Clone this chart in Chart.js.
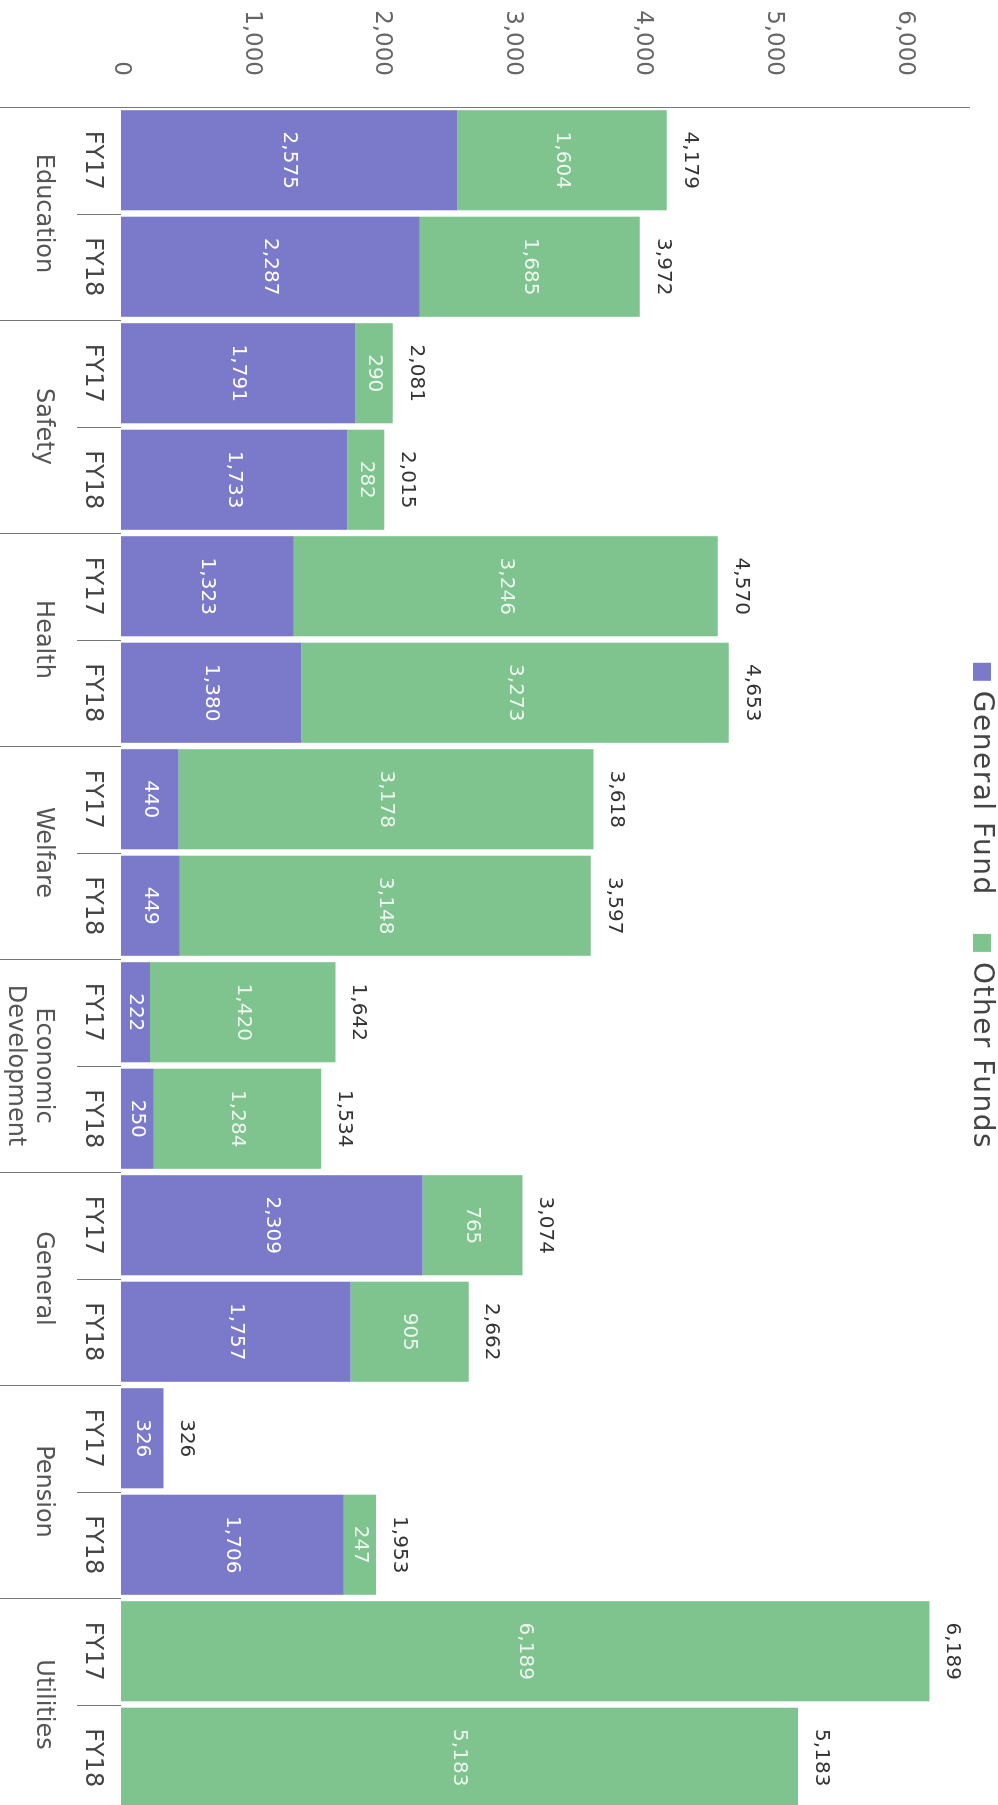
<!DOCTYPE html>
<html>
<head>
<meta charset="utf-8">
<script src="https://cdn.jsdelivr.net/npm/chart.js@4.4.1/dist/chart.umd.min.js"></script>
<style>
  html, body { margin: 0; padding: 0; background: #fff; }
  body { width: 998px; height: 1805px; overflow: hidden; position: relative; }
  /* chart is laid out landscape and turned a quarter clockwise */
  #wrap { position: absolute; left: 0; top: 0; width: 1812px; height: 998px;
          transform-origin: 0 0; transform: translate(998px, 0) rotate(90deg); }
</style>
</head>
<body>
<div id="wrap"><canvas id="spendChart" width="1812" height="998"></canvas></div>
<script>
const groups = ['Education', 'Safety', 'Health', 'Welfare', ['Economic', 'Development'], 'General', 'Pension', 'Utilities'];
const years = ['FY17', 'FY18'];
const generalFund = [2575, 2287, 1791, 1733, 1323, 1380, 440, 449, 222, 250, 2309, 1757, 326, 1706, 0, 0];
const otherFunds = [1604, 1685, 290, 282, 3246, 3273, 3178, 3148, 1420, 1284, 765, 905, 0, 247, 6189, 5183];
const totals = [4179, 3972, 2081, 2015, 4570, 4653, 3618, 3597, 1642, 1534, 3074, 2662, 326, 1953, 6189, 5183];
const valueTicks = [0, 1000, 2000, 3000, 4000, 5000, 6000];

const purple = '#7b79c9';
const green = '#7fc48f';
const font = 'DejaVu Sans';
const fmt = new Intl.NumberFormat('en-US');

const barLabels = [];
groups.forEach(() => years.forEach(y => barLabels.push(y)));

// segment values, stack totals, group dividers and the legend
const fundLabels = {
  id: 'fundLabels',
  afterDatasetsDraw(chart) {
    const { ctx, scales: { x, y } } = chart;
    ctx.save();
    ctx.font = '20px "' + font + '"';
    ctx.textAlign = 'center';
    ctx.textBaseline = 'middle';
    chart.data.datasets.forEach((ds, di) => {
      chart.getDatasetMeta(di).data.forEach((bar, i) => {
        const v = ds.data[i];
        if (!v) return;
        ctx.fillStyle = di === 0 ? '#ffffff' : 'rgba(255,255,255,0.85)';
        ctx.fillText(fmt.format(v), bar.x, (bar.y + bar.base) / 2);
      });
    });
    ctx.fillStyle = '#333';
    totals.forEach((t, i) => {
      ctx.fillText(fmt.format(t), x.getPixelForValue(i), y.getPixelForValue(t) - 23);
    });
    ctx.restore();
  },
  afterDraw(chart) {
    const { ctx, chartArea, scales: { x } } = chart;
    const half = (x.getPixelForValue(1) - x.getPixelForValue(0)) / 2;
    ctx.save();
    ctx.strokeStyle = '#777';
    ctx.lineWidth = 1;
    ctx.beginPath();
    barLabels.forEach((_, i) => {
      const px = Math.round(x.getPixelForValue(i) - half) + 0.5;
      const top = i === 0 ? chartArea.top : chartArea.bottom;
      const end = i % 2 === 0 ? chart.height : chartArea.bottom + 44;
      ctx.moveTo(px, top);
      ctx.lineTo(px, end);
    });
    ctx.stroke();

    // legend
    const items = chart.data.datasets.map(ds => ({ text: ds.label, color: ds.backgroundColor }));
    ctx.font = '28px "' + font + '"';
    ctx.letterSpacing = '1.5px';
    const box = 18, gap = 10, spacing = 38;
    const widths = items.map(it => box + gap + ctx.measureText(it.text).width);
    const total = widths.reduce((a, b) => a + b, 0) + spacing * (items.length - 1);
    let cx = (chart.width - total) / 2;
    const cy = 16;
    ctx.textAlign = 'left';
    ctx.textBaseline = 'middle';
    items.forEach((it, k) => {
      ctx.fillStyle = it.color;
      ctx.fillRect(cx, cy - box / 2, box, box);
      ctx.fillStyle = '#444';
      ctx.fillText(it.text, cx + box + gap, cy + 1);
      cx += widths[k] + spacing;
    });
    ctx.restore();
  }
};

new Chart(document.getElementById('spendChart'), {
  type: 'bar',
  data: {
    labels: barLabels,
    datasets: [{
      label: 'General Fund',
      data: generalFund,
      backgroundColor: purple,
      stack: 'funds',
      barPercentage: 0.94,
      categoryPercentage: 1
    },
    {
      label: 'Other Funds',
      data: otherFunds,
      backgroundColor: green,
      stack: 'funds',
      barPercentage: 0.94,
      categoryPercentage: 1
    }]
  },
  options: {
    responsive: false,
    animation: false,
    locale: 'en-US',
    layout: { padding: { top: 28, right: 1, left: 0, bottom: 0 } },
    plugins: {
      legend: { display: false },
      tooltip: { enabled: false }
    },
    scales: {
      x: {
        stacked: true,
        afterFit: s => { s.height = 42; },
        grid: { display: false, drawTicks: false },
        border: { display: false },
        ticks: {
          font: { family: font, size: 24, lineHeight: 1.2 },
          color: '#444',
          padding: 14,
          maxRotation: 0,
          autoSkip: false
        }
      },
      x2: {
        type: 'category',
        labels: groups,
        position: 'bottom',
        offset: true,
        afterFit: s => { s.height = 79; },
        grid: { display: false, drawTicks: false },
        border: { display: false },
        ticks: {
          font: { family: font, size: 24, lineHeight: 1.2 },
          color: '#555',
          padding: 21,
          maxRotation: 0,
          autoSkip: false
        }
      },
      y: {
        stacked: true,
        min: 0,
        max: 6500,
        afterBuildTicks: s => { s.ticks = valueTicks.map(v => ({ value: v })); },
        // fixed axis width; the top tick is far from the edge so no extra top room
        afterFit: s => { s.width = 107; s.paddingTop = 0; s.paddingBottom = 0; },
        grid: { display: false, drawTicks: false },
        border: { display: false },
        ticks: {
          font: { family: font, size: 23 },
          color: '#666',
          padding: 31
        }
      }
    }
  },
  plugins: [fundLabels]
});
</script>
</body>
</html>
